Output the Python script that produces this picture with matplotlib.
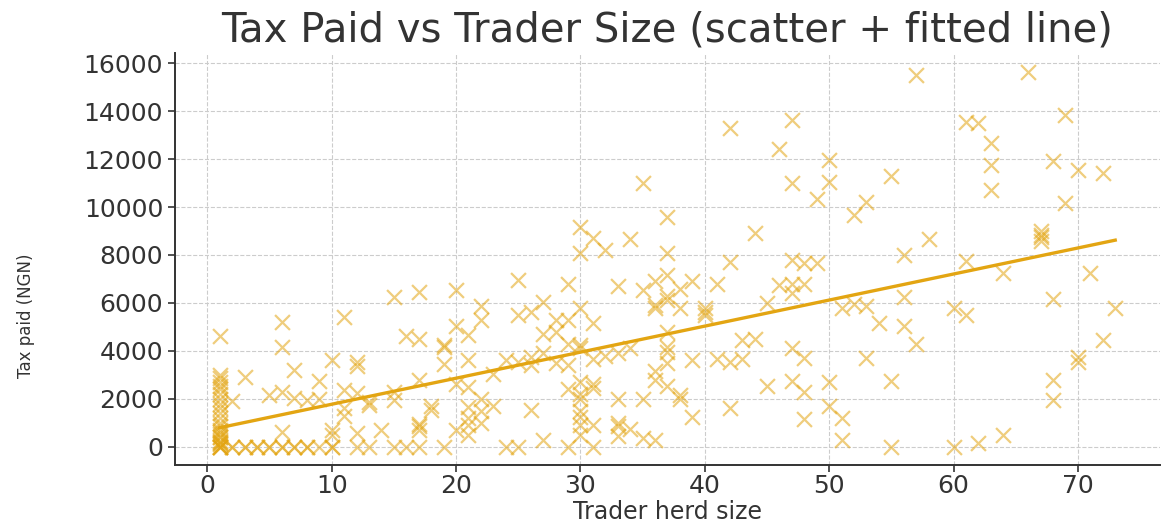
import numpy as np
import matplotlib
matplotlib.use("Agg")
import matplotlib.pyplot as plt

# herd size -> list of tax paid values
herd_groups = {
    1: [0, 0, 0, 0, 100, 150, 200, 250, 400, 400, 550, 600, 700, 850, 1000, 1200, 1400, 1600,
        1800, 2000, 2200, 2400, 2550, 2700, 2850, 3000, 4600],
    2: [0, 0, 1900],
    3: [0, 0, 2900],
    4: [0, 0],
    5: [0, 0, 2150],
    6: [0, 0, 600, 2300, 4150, 5200],
    7: [0, 0, 2050, 3200],
    8: [0, 0, 1950],
    9: [0, 2000, 2750],
    10: [0, 0, 500, 700, 3600],
    11: [1300, 1600, 2350, 5400],
    12: [0, 560, 2250, 3350, 3550],
    13: [0, 1750, 1850],
    14: [700],
    15: [0, 1950, 2300, 6250],
    16: [0, 4600],
    17: [0, 700, 850, 950, 2800, 4500, 6450],
    18: [1550, 1700],
    19: [0, 3450, 4150, 4250],
    20: [700, 2600, 5050, 6550],
    21: [500, 900, 1200, 1650, 2500, 3600, 4650],
    22: [1000, 1500, 2000, 5300, 5850],
    23: [1700, 3050],
    24: [0, 3600],
    25: [0, 3550, 5500, 6950],
    26: [1550, 3400, 3750, 5600],
    27: [300, 3900, 4700, 6050],
    28: [3500, 4800, 5300],
    29: [0, 2400, 3400, 4300, 5300, 6800],
    30: [500, 900, 1250, 1500, 2000, 2200, 2700, 4100, 4250, 5800, 8100, 9150],
    31: [0, 900, 2450, 2600, 3650, 5150, 8700],
    32: [3800, 8200],
    33: [450, 850, 1000, 2000, 3900, 6700],
    34: [750, 4100, 8650],
    35: [350, 2000, 6550, 11000],
    36: [300, 2800, 3150, 5800, 5900, 6900],
    37: [2550, 3500, 3950, 4150, 4800, 6100, 6300, 7150, 8100, 9600],
    38: [2000, 2150, 5800, 6600],
    39: [1250, 3600, 6900],
    40: [5500, 5600, 5800],
    41: [3650, 6800],
    42: [1600, 3550, 7700, 13300],
    43: [3650, 4450],
    44: [4500, 8900],
    45: [2550, 6000],
    46: [6750, 12400],
    47: [2750, 4100, 6400, 6800, 7800, 11000, 13650],
    48: [1150, 2300, 3700, 6800, 7650],
    49: [7650, 10350],
    50: [1700, 2700, 11050, 11950],
    51: [300, 1200, 5800],
    52: [5950, 9650],
    53: [3700, 5850, 10200],
    54: [5150],
    55: [0, 2750, 11300],
    56: [5050, 6250, 8000],
    57: [4300, 15500],
    58: [8650],
    60: [0, 5800],
    61: [5500, 7750, 13550],
    62: [150, 13500],
    63: [10700, 11750, 12650],
    64: [500, 7250],
    66: [15650],
    67: [8600, 8750, 8850, 9000],
    68: [1950, 2800, 6150, 11900],
    69: [10150, 13850],
    70: [3550, 3750, 11550],
    71: [7250],
    72: [4450, 11400],
    73: [5800],
}

herd_size = np.array([h for h, vals in herd_groups.items() for _ in vals], dtype=float)
tax_paid = np.array([v for vals in herd_groups.values() for v in vals], dtype=float)

title = "Tax Paid vs Trader Size (scatter + fitted line)"
x_label = "Trader herd size"
y_label = "Tax paid (NGN)"

color = "#E3A512"

fig = plt.figure(figsize=(11.71, 5.23), dpi=100)
ax = fig.add_axes([0.1494, 0.110, 0.8412, 0.789])

ax.scatter(herd_size, tax_paid, marker="x", s=115, color=color, alpha=0.55, linewidths=1.6)

slope, intercept = np.polyfit(herd_size, tax_paid, 1)
xs = np.linspace(herd_size.min(), herd_size.max(), 100)
ax.plot(xs, slope * xs + intercept, color=color, linewidth=2.4)

ax.set_title(title, fontsize=29, color="#333333", pad=8)
ax.set_xlabel(x_label, fontsize=17, color="#333333")
ax.xaxis.set_label_coords(0.5, -0.083)
ax.set_ylabel(y_label, fontsize=12, color="#333333")
ax.yaxis.set_label_coords(-0.142, 0.364)

ax.set_yticks(np.arange(0, 16001, 2000))
ax.set_xticks(np.arange(0, 71, 10))
ax.tick_params(axis="both", labelsize=18, colors="#333333", length=5, width=1.2)
ax.tick_params(axis="x", pad=1)

ax.grid(True, linestyle="--", color="#cccccc", linewidth=0.8)
ax.set_axisbelow(True)
for side in ("top", "right"):
    ax.spines[side].set_visible(False)
for side in ("left", "bottom"):
    ax.spines[side].set_color("#333333")
    ax.spines[side].set_linewidth(1.4)

fig.savefig("out.png", dpi=100)
